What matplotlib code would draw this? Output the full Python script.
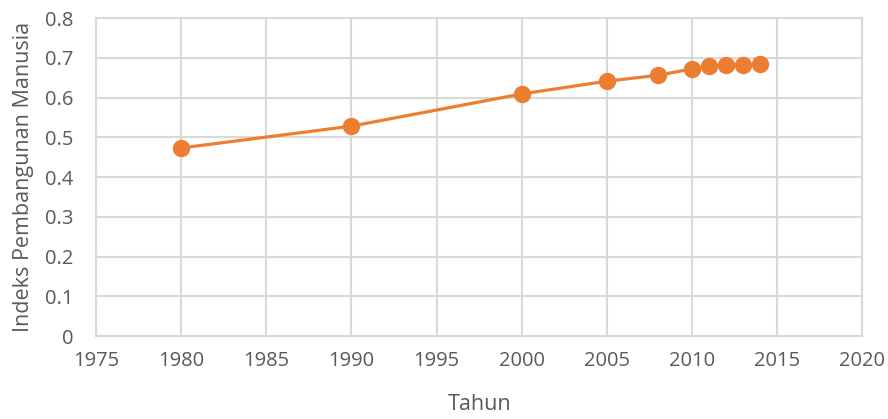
import matplotlib
matplotlib.use("Agg")
import matplotlib.pyplot as plt

years = [1980, 1990, 2000, 2005, 2008, 2010, 2011, 2012, 2013, 2014]
ipm = [0.473, 0.528, 0.609, 0.641, 0.656, 0.672, 0.679, 0.682, 0.683, 0.684]
xticks = [1975, 1980, 1985, 1990, 1995, 2000, 2005, 2010, 2015, 2020]
yticks = [0, 0.1, 0.2, 0.3, 0.4, 0.5, 0.6, 0.7, 0.8]
ytick_labels = ["0", "0.1", "0.2", "0.3", "0.4", "0.5", "0.6", "0.7", "0.8"]

plt.rcParams['font.family'] = ['Open Sans', 'DejaVu Sans']
text_color = "#595959"
grid_color = "#d9d9d9"

fig = plt.figure(figsize=(8.88, 4.19), dpi=100)
ax = fig.add_axes([0.108, 0.198, 0.863, 0.759])

ax.plot(years, ipm, color="#ED7D31", linewidth=2.3, marker="o", markersize=11.5, zorder=3)

ax.set_xlim(1975, 2020)
ax.set_ylim(0, 0.8)
ax.set_xticks(xticks)
ax.set_yticks(yticks)
ax.set_yticklabels(ytick_labels)
ax.grid(True, color=grid_color, linewidth=1.5)
ax.set_axisbelow(True)
for s in ax.spines.values():
    s.set_color(grid_color)
    s.set_linewidth(1.5)
ax.tick_params(length=0, labelsize=14.5, colors=text_color)
ax.tick_params(axis="x", pad=11)
ax.tick_params(axis="y", pad=16)
ax.set_xlabel("Tahun", fontsize=15.5, color=text_color, labelpad=16)
ax.set_ylabel("Indeks Pembangunan Manusia", fontsize=15.5, color=text_color, labelpad=8)

fig.savefig("out.png", dpi=100)
